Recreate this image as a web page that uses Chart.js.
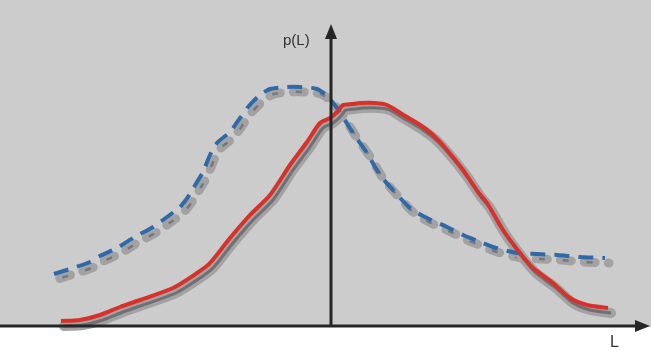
<!DOCTYPE html>
<html>
<head>
<meta charset="utf-8">
<script src="https://cdn.jsdelivr.net/npm/chart.js@4/dist/chart.umd.min.js"></script>
<style>
html,body{margin:0;padding:0;background:#ffffff;}
#c{display:block;}
</style>
</head>
<body>
<canvas id="c" width="651" height="357"></canvas>
<script>
// Solid red curve p(L)
const redL = [-2.70,-2.51,-2.31,-2.11,-1.91,-1.58,-1.34,-1.21,-1.01,-0.81,-0.61,-0.41,-0.24,-0.11,-0.01,0.06,0.12,0.21,0.29,0.44,0.56,0.69,0.89,1.02,1.16,1.32,1.47,1.56,1.72,1.89,2.02,2.22,2.39,2.56,2.77];
const redP = [0.05,0.06,0.11,0.19,0.26,0.38,0.53,0.63,0.88,1.11,1.31,1.61,1.84,2.03,2.08,2.14,2.21,2.22,2.23,2.23,2.21,2.13,2.01,1.91,1.76,1.56,1.34,1.23,0.96,0.73,0.58,0.43,0.28,0.21,0.18];
// Dashed blue curve p(L)
const blueL = [-2.77,-2.58,-2.41,-2.31,-2.14,-1.98,-1.78,-1.64,-1.51,-1.41,-1.34,-1.28,-1.21,-1.14,-1.01,-0.91,-0.83,-0.71,-0.61,-0.44,-0.31,-0.14,-0.03,0.06,0.12,0.22,0.36,0.49,0.62,0.79,0.96,1.16,1.32,1.47,1.62,1.86,2.06,2.26,2.49,2.74];
const blueP = [0.52,0.58,0.64,0.70,0.78,0.88,0.99,1.09,1.19,1.32,1.44,1.54,1.71,1.83,1.94,2.08,2.19,2.31,2.37,2.39,2.39,2.37,2.29,2.18,2.09,1.93,1.73,1.51,1.36,1.18,1.08,0.99,0.91,0.85,0.79,0.73,0.72,0.71,0.69,0.68];
// Axis extents and labels
const axisL = [-3.31, 3.20];
const axisP = [-0.31, 3.26];
const xLabel = "L";
const yLabel = "p(L)";

const pts = (xs, ys) => xs.map((x, i) => ({x: x, y: ys[i]}));

const shadowPlugin = {
  id: 'shadowShift',
  beforeDatasetDraw(chart, args) {
    const ds = chart.data.datasets[args.index];
    chart.ctx.save();
    if (ds.shift) chart.ctx.translate(ds.shift[0], ds.shift[1]);
  },
  afterDatasetDraw(chart) { chart.ctx.restore(); }
};

const framePlugin = {
  id: 'frame',
  beforeDraw(chart) {
    const ctx = chart.ctx;
    const ys = chart.scales.y;
    const y0 = ys.getPixelForValue(0);
    ctx.save();
    ctx.fillStyle = '#ffffff';
    ctx.fillRect(0, 0, chart.width, chart.height);
    ctx.fillStyle = '#cccccc';
    ctx.fillRect(0, 0, chart.width, Math.round(y0) + 1);
    ctx.restore();
  },
  afterDatasetsDraw(chart) {
    const ctx = chart.ctx;
    const xs = chart.scales.x, ys = chart.scales.y;
    const x0 = xs.getPixelForValue(0);
    const y0 = ys.getPixelForValue(0);
    const xr = xs.getPixelForValue(axisL[1]);
    const xl = xs.getPixelForValue(axisL[0]);
    ctx.save();
    ctx.strokeStyle = '#262626';
    ctx.fillStyle = '#262626';
    ctx.lineWidth = 3;
    ctx.beginPath();
    ctx.moveTo(xl, y0);
    ctx.lineTo(xr - 10, y0);
    ctx.stroke();
    ctx.beginPath();
    ctx.moveTo(xr - 1, y0);
    ctx.lineTo(xr - 16, y0 - 6);
    ctx.lineTo(xr - 16, y0 + 6);
    ctx.closePath();
    ctx.fill();
    const yt = 24;
    ctx.beginPath();
    ctx.moveTo(x0, y0);
    ctx.lineTo(x0, yt + 10);
    ctx.stroke();
    ctx.beginPath();
    ctx.moveTo(x0, yt);
    ctx.lineTo(x0 - 6, yt + 15);
    ctx.lineTo(x0 + 6, yt + 15);
    ctx.closePath();
    ctx.fill();
    ctx.fillStyle = '#333333';
    ctx.font = '15px "Liberation Sans", Arial, sans-serif';
    ctx.textAlign = 'left';
    ctx.textBaseline = 'alphabetic';
    ctx.fillText(yLabel, x0 - 48, 45);
    ctx.font = '16px "Liberation Sans", Arial, sans-serif';
    ctx.fillText(xLabel, x0 + 279, 347);
    ctx.restore();
  }
};

const common = {pointRadius: 0, fill: false, tension: 0.25, clip: false, borderJoinStyle: 'round'};

new Chart(document.getElementById('c'), {
  type: 'line',
  data: {
    datasets: [
      Object.assign({}, common, {label: 'red', data: pts(redL, redP), borderColor: '#d9302a', borderWidth: 4, borderCapStyle: 'butt', order: 0}),
      Object.assign({}, common, {label: 'blue', data: pts(blueL, blueP), borderColor: '#2f69a8', borderWidth: 4, borderDash: [15, 9], borderCapStyle: 'butt', order: 1}),
      Object.assign({}, common, {label: 'redShadowIn', data: pts(redL, redP), borderColor: '#707074', borderWidth: 3, shift: [3, 5], order: 2}),
      Object.assign({}, common, {label: 'redShadowOut', data: pts(redL, redP), borderColor: '#a2a2a2', borderWidth: 10, borderCapStyle: 'round', shift: [3, 5], order: 3}),
      Object.assign({}, common, {label: 'blueShadowIn', data: pts(blueL, blueP), borderColor: '#767680', borderWidth: 2.5, borderDash: [6, 18], borderDashOffset: -4.5, shift: [4, 5], order: 4}),
      Object.assign({}, common, {label: 'blueShadowOut', data: pts(blueL, blueP), borderColor: '#a2a2a2', borderWidth: 9, borderDash: [11, 13], borderDashOffset: -2, borderCapStyle: 'round', shift: [4, 5], order: 5})
    ]
  },
  options: {
    responsive: false,
    devicePixelRatio: 1,
    animation: false,
    layout: {padding: 0},
    plugins: {legend: {display: false}, tooltip: {enabled: false}},
    scales: {
      x: {type: 'linear', min: axisL[0], max: axisL[1], display: false},
      y: {type: 'linear', min: axisP[0], max: axisP[1], display: false}
    }
  },
  plugins: [framePlugin, shadowPlugin]
});
</script>
</body>
</html>
